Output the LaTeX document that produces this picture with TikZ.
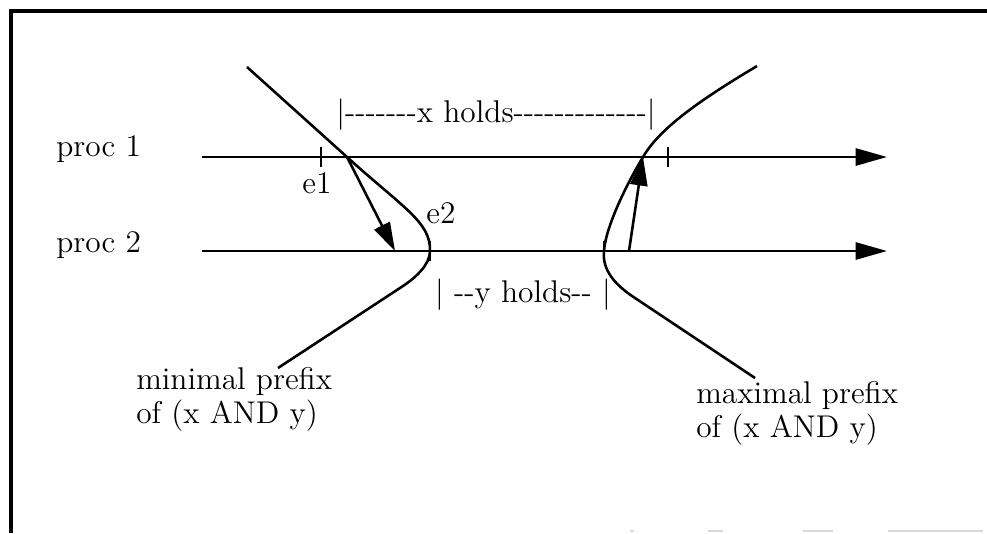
\documentclass[tikz,border=0pt]{standalone}
\usetikzlibrary{arrows.meta}

\tikzset{
  lbl/.style={inner sep=0pt, font=\fontsize{11}{11.6}\selectfont},
  arrowtip/.style={-{Triangle[length=11pt,width=6pt]}},
  msgarrow/.style={-{Triangle[length=10pt,width=6pt]}},
  tickmark/.style={line width=0.8pt}
}
% hyphens one by one, so that -- is not joined into a dash
\newcommand{\hyph}[1]{\foreach \k in {1,...,#1}{-}}

\begin{document}
\begin{tikzpicture}[x=0.35pt, y=-0.35pt, line width=0.9pt]
  \useasboundingbox (0,0) rectangle (987,533);

  % frame
  \draw [line width=1.3pt] (987,11) -- (11,11) -- (11,533);
  \foreach \a/\b in {630/634, 708/723, 803/833, 888/983}
    \draw [gray!30, line width=0.5pt] (\a,531) -- (\b,531);

  % processes
  \coordinate (P1) at (202,157);
  \coordinate (P1E) at (887,157);
  \coordinate (P2) at (202,251);
  \coordinate (P2E) at (887,251);

  \draw [arrowtip] (P1) -- (P1E);
  \draw [arrowtip] (P2) -- (P2E);

  \node [lbl, anchor=base west] (proc1) at (55,156) {proc 1};
  \node [lbl, anchor=base west] (proc2) at (55,252) {proc 2};

  % events
  \coordinate (E1) at (321,157);
  \coordinate (E2) at (430,251);
  \coordinate (S1) at (347,157);
  \coordinate (R1) at (395,251);
  \coordinate (S2) at (629,251);
  \coordinate (R2) at (643,157);
  \coordinate (X2) at (668,157);
  \coordinate (Y1) at (604,251);

  \draw [tickmark] (E1) ++(0,-10) -- ++(0,20);
  \draw [tickmark] (E2) ++(0,-10) -- ++(0,20);
  \draw [tickmark] (X2) ++(0,-10) -- ++(0,20);
  \draw [tickmark] (Y1) ++(0,-10) -- ++(0,20);

  \draw [msgarrow] (S1) -- (R1);
  \draw [msgarrow] (S2) -- (R2);

  % the two cuts
  \coordinate (MinT) at (247,67);
  \coordinate (MinB) at (278,368);
  \coordinate (MaxT) at (757,66);
  \coordinate (MaxB) at (755,378);

  \draw (MinT) -- (S1) .. controls (402,207) and (431,222) .. (E2)
        .. controls (430,265) and (415,278) .. (403,286) -- (MinB);
  \draw (MaxT) .. controls (700,100) and (660,128) .. (R2)
        .. controls (628,182) and (606,225) .. (Y1)
        .. controls (602,270) and (615,285) .. (635,298) -- (MaxB);

  % labels
  \node [lbl, anchor=base] (e1) at (317,193) {e1};
  \node [lbl, anchor=base] (e2) at (441,223) {e2};
  \node [lbl, anchor=base] (xholds) at (496,122) {|\hyph{7}x holds\hyph{13}|};
  \node [lbl, anchor=base] (yholds) at (523,302) {| \hyph{2}y holds\hyph{2} |};

  % base of a two-line node is the base of its last line
  \node [lbl, anchor=base west, align=left] (minpre) at (135,423)
    {minimal prefix\\of (x AND y)};
  \node [lbl, anchor=base west, align=left] (maxpre) at (695,437)
    {maximal prefix\\of (x AND y)};

\end{tikzpicture}
\end{document}
